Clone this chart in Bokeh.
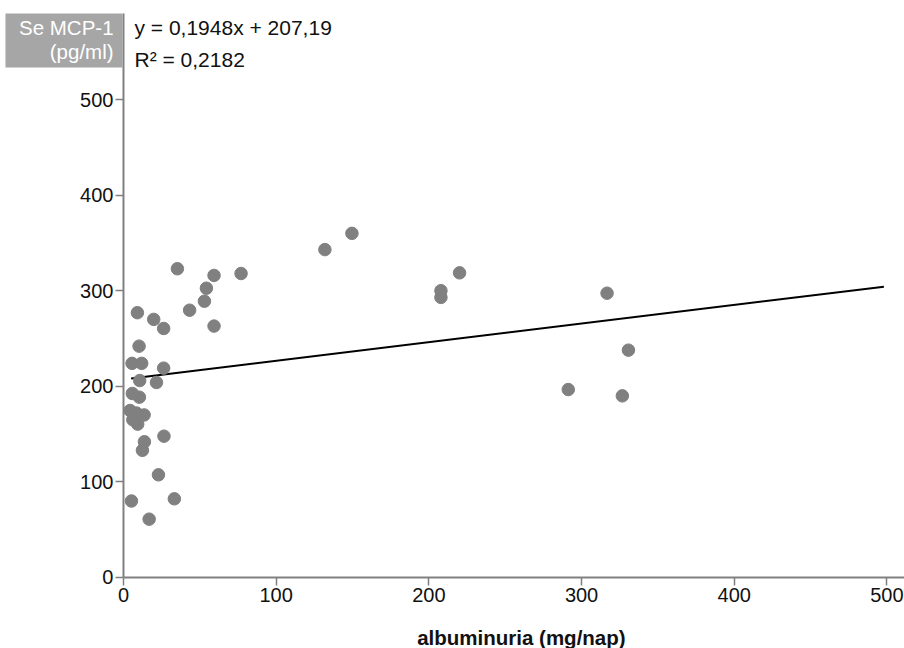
from bokeh.plotting import figure
from bokeh.models import Label, BoxAnnotation, Range1d, FixedTicker
from bokeh.embed import file_html
from bokeh.resources import INLINE

albuminuria = [35.3, 59.3, 77.0, 54.3, 53.0, 43.3, 9.1, 19.8, 26.3, 59.3,
               10.2, 5.6, 11.9, 26.3, 10.6, 21.6, 5.8, 10.4, 4.3, 8.5,
               13.5, 6.1, 9.3, 13.7, 12.4, 26.5, 22.9, 5.2, 33.3, 16.8,
               131.9, 149.6, 220.1, 207.9, 207.9, 316.7, 330.7, 291.3, 326.7]
mcp1 = [323, 316, 318, 302.6, 289, 279.6, 277, 270, 260.5, 263,
        242, 224, 224, 219, 206, 204, 192.5, 188.6, 174.7, 172,
        170, 165, 160.4, 142, 133, 147.8, 107.4, 80, 82.3, 61,
        343, 360, 318.7, 300, 293, 297.4, 237.8, 196.6, 190]
slope = 0.1948
intercept = 207.19
trend_x = [5, 498]
x_ticks = [0, 100, 200, 300, 400, 500]
y_ticks = [0, 100, 200, 300, 400, 500]

FONT = "Liberation Sans"
AXIS_COLOR = "#808080"
X_START, X_END = -80.55, 511.5
Y_START, Y_END = -74.3, 603.6
Y_TOP = 590  # top of the drawn y axis

p = figure(width=904, height=648, output_backend="svg", toolbar_location=None,
           x_range=Range1d(X_START, X_END), y_range=Range1d(Y_START, Y_END),
           min_border_left=0, min_border_right=0, min_border_top=0,
           min_border_bottom=0)
p.outline_line_color = None
p.xgrid.grid_line_color = None
p.ygrid.grid_line_color = None
p.background_fill_color = "white"

# y-axis title box (inside the frame, left of x = 0)
p.add_layout(BoxAnnotation(left=-77.3, right=-0.8, bottom=533.5, top=Y_TOP,
                           fill_color="#a6a6a6", fill_alpha=1.0,
                           line_color=None, level="underlay"))
for txt, yy in (("Se MCP-1", 575), ("(pg/ml)", 550)):
    p.add_layout(Label(x=-6.5, y=yy, text=txt, text_align="right",
                       text_baseline="middle", text_font=FONT,
                       text_font_size="20.5px", text_color="white"))

# axis lines
p.line([0, X_END], [0, 0], line_color=AXIS_COLOR, line_width=2)
p.line([0, 0], [0, Y_TOP], line_color=AXIS_COLOR, line_width=2)

trend_y = [slope * v + intercept for v in trend_x]
p.line(trend_x, trend_y, line_color="black", line_width=2)
p.scatter(albuminuria, mcp1, size=12.5, fill_color="#808080", line_color="#808080")

for ax in (p.xaxis[0], p.yaxis[0]):
    ax.axis_line_color = None
    ax.major_tick_line_color = AXIS_COLOR
    ax.major_tick_line_width = 1.5
    ax.minor_tick_line_color = None
    ax.major_tick_in = 0
    ax.major_tick_out = 8
    ax.major_label_text_font = FONT
    ax.major_label_text_font_size = "20px"
    ax.major_label_text_color = "#111111"
    ax.fixed_location = 0

p.xaxis.ticker = FixedTicker(ticks=x_ticks)
p.yaxis.ticker = FixedTicker(ticks=y_ticks)
p.xaxis.major_label_standoff = 3
p.yaxis.major_label_standoff = 2

# x-axis title
p.add_layout(Label(x=260.6, y=-62.8, text="albuminuria (mg/nap)", text_align="center",
                   text_baseline="middle", text_font=FONT, text_font_style="bold",
                   text_font_size="20.5px", text_color="#111111"))

# regression equation
for txt, yy in (("y = 0,1948x + 207,19", 575), ("R² = 0,2182", 542)):
    p.add_layout(Label(x=7.2, y=yy, text=txt, text_align="left",
                       text_baseline="middle", text_font=FONT,
                       text_font_size="21px", text_color="#111111"))

open("out.html", "w").write(file_html(p, INLINE))
